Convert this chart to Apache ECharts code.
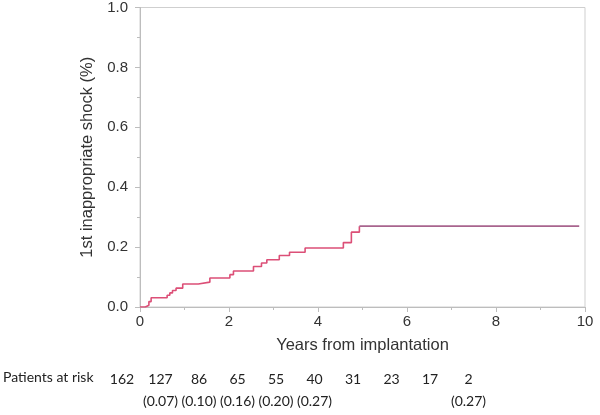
<!DOCTYPE html>
<html>
<head>
<meta charset="utf-8">
<script src="https://cdn.jsdelivr.net/npm/echarts@6/dist/echarts.min.js"></script>
<style>html,body{margin:0;padding:0;background:#fff}#c{width:600px;height:415px}</style>
</head>
<body>
<div id="c"></div>
<script>
// Kaplan-Meier style cumulative incidence (event times in years, cumulative value)
const eventYears = [0, 0.12, 0.20, 0.25, 0.61, 0.67, 0.73, 0.81, 0.96, 1.31, 1.57, 2.02, 2.10, 2.55, 2.73, 2.85, 3.13, 3.36, 3.71, 4.57, 4.75, 4.93];
const eventValues = [0, 0.006, 0.018, 0.031, 0.039, 0.047, 0.055, 0.063, 0.077, 0.083, 0.097, 0.108, 0.120, 0.135, 0.147, 0.158, 0.172, 0.183, 0.197, 0.215, 0.250, 0.270];
const plateauYears = [4.93, 9.87];
const plateauValues = [0.270, 0.270];

const riskLabel = 'Patients at risk';
const riskCounts = ['162', '127', '86', '65', '55', '40', '31', '23', '17', '2'];
const riskCumulative = [null, '(0.07)', '(0.10)', '(0.16)', '(0.20)', '(0.27)', null, null, null, '(0.27)'];

const xTitle = 'Years from implantation';
const yTitle = '1st inappropriate shock (%)';

const chart = echarts.init(document.getElementById('c'), null, {renderer: 'canvas'});

const stepData = eventYears.map((t, i) => [t, eventValues[i]]);
const flatData = plateauYears.map((t, i) => [t, plateauValues[i]]);

const tableFont = 'Lato';
const graphics = [{
  type: 'text', left: 3, top: 370,
  style: {text: riskLabel, fontFamily: tableFont, fontSize: 14, fill: '#222'}
}];
riskCounts.forEach((s, i) => {
  const cx = 122 + 38.5 * i;
  graphics.push({type: 'text', x: cx, y: 379,
    style: {text: s, fontFamily: tableFont, fontSize: 14, fill: '#222', align: 'center', verticalAlign: 'middle'}});
  if (riskCumulative[i]) {
    graphics.push({type: 'text', x: cx, y: 401,
      style: {text: riskCumulative[i], fontFamily: tableFont, fontSize: 14, fill: '#222', align: 'center', verticalAlign: 'middle'}});
  }
});

const baseFont = 'Liberation Sans';

function axis(extra) {
  return Object.assign({
    axisLine: {show: true, lineStyle: {color: '#bdbdbd', width: 1}},
    axisTick: {show: true, length: 5, lineStyle: {color: '#bdbdbd'}},
    minorTick: {show: true, splitNumber: 2, length: 3, lineStyle: {color: '#bdbdbd'}},
    splitLine: {show: false},
    nameTextStyle: {fontFamily: baseFont, fontSize: 16.5, color: '#333'}
  }, extra);
}

chart.setOption({
  animation: false,
  backgroundColor: '#fff',
  textStyle: {fontFamily: baseFont},
  grid: {left: 140, right: 15, top: 7, bottom: 108, show: true, borderColor: '#cfcfcf', borderWidth: 1, backgroundColor: 'transparent'},
  xAxis: axis({
    type: 'value', min: 0, max: 10, interval: 2,
    name: xTitle, nameLocation: 'middle', nameGap: 30,
    axisLabel: {fontFamily: baseFont, fontSize: 15, color: '#333', margin: 7}
  }),
  yAxis: axis({
    type: 'value', min: 0, max: 1, interval: 0.2,
    name: yTitle, nameLocation: 'middle', nameGap: 44,
    axisLabel: {fontFamily: baseFont, fontSize: 15, color: '#333', margin: 12,
      formatter: v => v.toFixed(1)}
  }),
  series: [{
    type: 'line', step: 'end', data: stepData, showSymbol: false,
    lineStyle: {color: '#dc4f77', width: 1.6}
  }, {
    type: 'line', data: flatData, showSymbol: false,
    lineStyle: {color: '#a8648e', width: 1.6}
  }],
  graphic: graphics
});
</script>
</body>
</html>
